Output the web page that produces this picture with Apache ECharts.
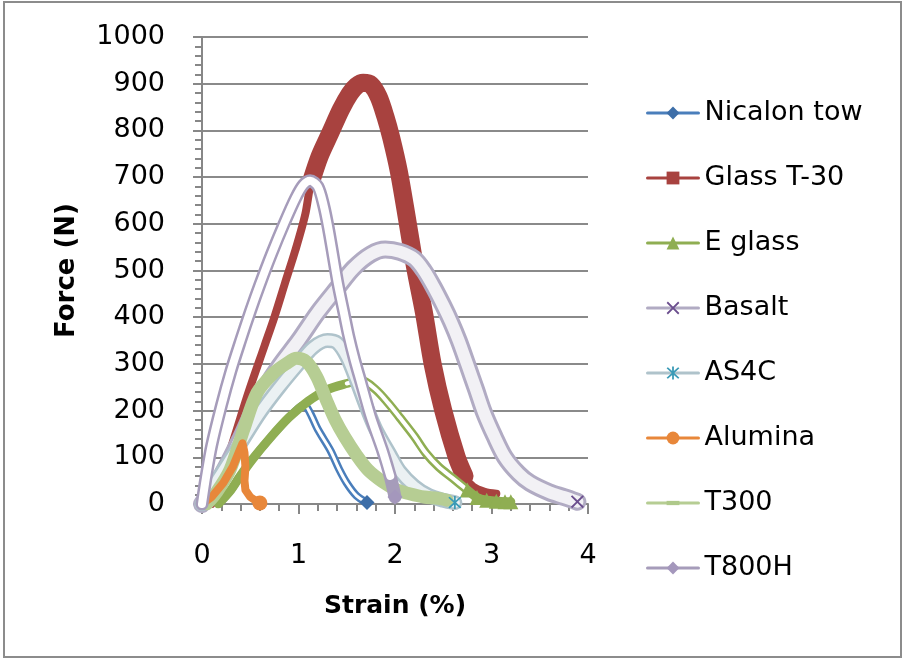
<!DOCTYPE html>
<html><head><meta charset="utf-8">
<script src="https://cdn.jsdelivr.net/npm/echarts@6/dist/echarts.min.js"></script>
<style>html,body{margin:0;padding:0;background:#fff}#c{width:906px;height:663px}</style>
</head><body><div id="c"></div>
<script>
// ---- data: [strain %, force N] ----
const nicalonTow = [[0.17,0],[0.3,30],[0.39,58],[0.52,95],[0.7,140],[0.9,185],[1.0,205],[1.06,212],[1.12,195],[1.2,160],[1.33,115],[1.42,75],[1.5,45],[1.6,18],[1.71,3]];
const glassT30 = [[0.1,0],[0.3,120],[0.48,238],[0.65,340],[0.75,400],[0.86,473],[0.97,545],[1.07,620],[1.13,690],[1.22,745],[1.33,795],[1.44,845],[1.53,878],[1.6,895],[1.67,902],[1.75,898],[1.83,872],[1.9,830],[1.96,785],[2.04,712],[2.13,604],[2.21,505],[2.3,410],[2.39,300],[2.5,200],[2.64,100],[2.72,60],[2.81,37],[2.93,26],[3.05,22]];
const eGlass = [[0.17,0],[0.3,30],[0.39,58],[0.52,95],[0.7,140],[0.9,185],[1.1,220],[1.3,245],[1.5,258],[1.65,265],[1.8,245],[1.93,216],[2.05,185],[2.2,145],[2.32,109],[2.45,80],[2.6,55],[2.75,30],[2.85,14],[2.95,8],[3.05,6],[3.14,5],[3.2,5]];
const basalt = [[0,0],[0.2,60],[0.4,140],[0.6,229],[0.8,295],[1.0,350],[1.2,410],[1.4,462],[1.57,505],[1.75,535],[1.9,545],[2.05,540],[2.2,525],[2.3,500],[2.4,465],[2.5,425],[2.58,390],[2.66,350],[2.75,298],[2.84,245],[2.92,197],[3.03,145],[3.14,100],[3.28,65],[3.4,45],[3.6,25],[3.75,15],[3.89,5]];
const as4c = [[0,0],[0.2,65],[0.4,130],[0.6,195],[0.8,250],[1.0,300],[1.15,335],[1.3,350],[1.4,345],[1.5,315],[1.6,265],[1.7,210],[1.8,160],[1.95,105],[2.05,70],[2.2,38],[2.35,18],[2.5,8],[2.62,3]];
const alumina = [[0,0],[0.1,15],[0.22,45],[0.32,80],[0.38,110],[0.42,130],[0.44,110],[0.45,80],[0.44,50],[0.45,30],[0.5,15],[0.55,8],[0.6,2]];
const t300 = [[0.05,0],[0.15,25],[0.29,73],[0.43,158],[0.57,238],[0.74,280],[0.87,300],[0.98,312],[1.08,305],[1.19,272],[1.29,222],[1.38,180],[1.48,143],[1.6,105],[1.72,73],[1.87,48],[2.02,30],[2.15,22],[2.3,15],[2.45,12],[2.54,8]];
const t800h = [[0,0],[0.04,55],[0.1,125],[0.2,210],[0.3,285],[0.4,350],[0.5,412],[0.6,470],[0.72,535],[0.85,600],[0.97,655],[1.05,683],[1.12,692],[1.2,680],[1.26,640],[1.31,590],[1.36,530],[1.41,470],[1.47,410],[1.52,360],[1.58,310],[1.65,259],[1.75,186],[1.87,115],[1.95,60],[2.0,15]];
const seriesNames = ['Nicalon tow','Glass T-30','E glass','Basalt','AS4C','Alumina','T300','T800H'];

const FONT = 'DejaVu Sans';
const X_PATH = 'path://M1,0L5,4L9,0L10,1L6,5L10,9L9,10L5,6L1,10L0,9L4,5L0,1Z';
const AST_PATH = 'path://M1,0L5,4L9,0L10,1L6,5L10,9L9,10L5,6L1,10L0,9L4,5L0,1Z M4.3,-0.5L5.7,-0.5L5.7,10.5L4.3,10.5Z';
const DASH_PATH = 'path://M0,0M12,12M0,4L12,4L12,8L0,8Z';

// end marker only on the last point(s)
function marked(arr, fromIdx){
  return arr.map((p,i)=> i>=fromIdx ? {value:p} : {value:p, symbol:'none'});
}
function lineS(name, data, color, width, symbol, symSize, markColor, smooth, z){
  return {type:'line', name, data, symbol, symbolSize:symSize, showSymbol:true,
    smooth: smooth,
    lineStyle:{color, width, cap:'round', join:'round'},
    itemStyle:{color:markColor, opacity:1}, emphasis:{disabled:true}, z:z||2};
}
function inner(name, arr, color, width, smooth){
  return {type:'line', name, data:arr, symbol:'none', showSymbol:false, smooth,
    lineStyle:{color, width, cap:'round', join:'round'}, emphasis:{disabled:true}, z:2};
}

const series = [
  lineS('Nicalon tow', marked(nicalonTow, nicalonTow.length-1), '#4A7EBB', 8, 'diamond', 15, '#3D6EA8', 0.3),
  inner('Nicalon tow', nicalonTow, '#ffffff', 3, 0.3),
  lineS('Glass T-30', marked(glassT30, glassT30.length), '#A8423F', 8, 'rect', 14, '#A8423F', 0.3),
  inner('Glass T-30', glassT30.filter(p=>p[0]>=1.13 && p[0]<=2.72), '#A8423F', 18, 0.3),
  lineS('E glass', marked(eGlass, eGlass.length-6), '#8FAE52', 9, 'triangle', 15, '#8FAE52', 0.3),
  inner('E glass', eGlass.filter(p=>p[0]>=1.5 && p[0]<=2.75), '#ffffff', 4, 0.3),
  lineS('Basalt', marked(basalt, basalt.length-1), '#B1ABC3', 18, X_PATH, 13, '#6B4E8E', 0.3),
  inner('Basalt', basalt, '#F2F1F5', 12, 0.3),
  lineS('AS4C', marked(as4c, as4c.length-1), '#AFC3CB', 15, AST_PATH, 13, '#3A9AB6', 0.3),
  inner('AS4C', as4c, '#EBF1F3', 10, 0.3),
  lineS('T300', marked(t300, t300.length), '#B6CD93', 13, DASH_PATH, 14, '#AFC98A', 0.3),
  lineS('Alumina', marked(alumina, alumina.length-1), '#E8873A', 8, 'circle', 15, '#E8873A', 0, 3),
  lineS('T800H', marked(t800h, t800h.length-1), '#A69CBA', 13, 'diamond', 15, '#A497BC', 0.3, 4),
  Object.assign(inner('T800H', t800h.slice(0, t800h.length-1), '#ffffff', 8, 0.3), {z:4})
];

const chart = echarts.init(document.getElementById('c'), null, {renderer:'canvas'});
chart.setOption({
  animation:false,
  backgroundColor:'#ffffff',
  grid:{left:202, right:318, top:37, bottom:159, containLabel:false},
  xAxis:{type:'value', min:0, max:4, interval:1,
    name:'Strain (%)', nameLocation:'middle', nameGap:90,
    nameTextStyle:{fontFamily:FONT, fontWeight:'bold', fontSize:25, color:'#000'},
    axisLine:{show:true, onZero:false, lineStyle:{color:'#878787', width:2}},
    axisTick:{show:true, length:10, lineStyle:{color:'#878787', width:2}},
    minorTick:{show:true, splitNumber:5, length:7, lineStyle:{color:'#878787', width:2}},
    splitLine:{show:false},
    axisLabel:{fontFamily:FONT, fontSize:27, color:'#000', margin:38, formatter:v=>String(v)}},
  yAxis:{type:'value', min:0, max:1000, interval:100,
    name:'Force (N)', nameLocation:'middle', nameGap:122,
    nameTextStyle:{fontFamily:FONT, fontWeight:'bold', fontSize:26, color:'#000'},
    axisLine:{show:true, onZero:false, lineStyle:{color:'#878787', width:2}},
    axisTick:{show:true, length:9, lineStyle:{color:'#878787', width:2}},
    minorTick:{show:true, splitNumber:5, length:7, lineStyle:{color:'#878787', width:2}},
    splitLine:{show:true, lineStyle:{color:'#8A8A8A', width:2}},
    axisLabel:{fontFamily:FONT, fontSize:27, color:'#000', margin:37, formatter:v=>String(v)}},
  legend:{orient:'vertical', left:641, top:93, itemWidth:51, itemHeight:16, itemGap:35,
    data:seriesNames, selectedMode:false,
    lineStyle:{width:3}, itemStyle:{borderWidth:0},
    textStyle:{fontFamily:FONT, fontSize:27, color:'#000', lineHeight:30, padding:[0,0,0,1]}},
  graphic:[{type:'rect', shape:{x:4, y:2, width:897, height:655}, style:{fill:'none', stroke:'#8C8C8C', lineWidth:2}, silent:true, z:-1}],
  series
});
</script></body></html>
